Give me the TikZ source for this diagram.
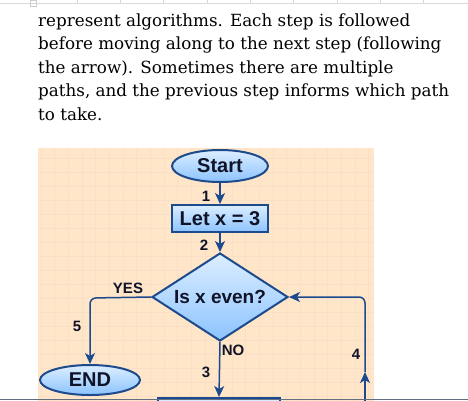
\documentclass[tikz,border=0pt]{standalone}
\usepackage{fontspec}
\setmainfont{DejaVu Serif}
\setsansfont{Liberation Sans}
\usepackage{xcolor}
\usetikzlibrary{shapes.geometric, arrows.meta, calc}
\definecolor{paper}{RGB}{255,230,200}
\definecolor{gridline}{RGB}{249,223,199}
\definecolor{flowline}{RGB}{28,74,140}
\definecolor{flowtop}{RGB}{220,238,255}
\definecolor{flowbot}{RGB}{140,195,255}
\definecolor{flowtext}{RGB}{15,20,40}
\begin{document}
\begin{tikzpicture}[x=1pt, y=-1pt,
  txt/.style={anchor=base west, inner sep=0, font=\fontsize{16.75}{23}\selectfont},
  flowbox/.style={draw=flowline, line width=2pt, top color=flowtop, bottom color=flowbot,
    text=flowtext, inner sep=0, font=\sffamily\bfseries\fontsize{20}{22}\selectfont},
  lbl/.style={text=flowtext, inner sep=0, font=\sffamily\bfseries\fontsize{15}{16}\selectfont},
  conn/.style={draw=flowline, line width=1.5pt, -{Stealth[length=11pt, width=10pt, inset=3pt]}}]
\useasboundingbox (0,0) rectangle (468,400);
\clip (0,0) rectangle (468,400);
\fill[white] (0,0) rectangle (468,400);
\draw[gray!30, line width=0.8pt] (0,3.5) -- (468,3.5);
\foreach \t in {0,...,8} \draw[gray!30, line width=0.6pt] ({77+43.3*\t},0) -- ({77+43.3*\t},3.5);
\draw[gray!40, line width=0.6pt] (30,0) rectangle (36,6);
\node[txt] (line1) at (38,26) {represent algorithms. Each step is followed};
\node[txt] (line2) at (38,49.5) {before moving along to the next step (following};
\node[txt] (line3) at (38,73) {the arrow). Sometimes there are multiple};
\node[txt] (line4) at (38,96.5) {paths, and the previous step informs which path};
\node[txt] (line5) at (38,120) {to take.};
\fill[paper] (38,148) rectangle (374,402);
\begin{scope}
\clip (38,148) rectangle (374,402);
\foreach \i in {3,...,27} \draw[gridline, line width=0.5pt] ({13.65*\i},148) -- ({13.65*\i},402);
\foreach \j in {-2,...,16} \draw[gridline, line width=0.5pt] (38,{172+14*\j}) -- (374,{172+14*\j});
\end{scope}
\node[flowbox, ellipse, minimum width=96pt, minimum height=32pt] (start) at (220,166) {Start};
\node[flowbox, rectangle, minimum width=96pt, minimum height=27pt] (letx) at (220,218.5) {Let x = 3};
\node[flowbox, diamond, shape aspect=1.55, minimum width=136pt, minimum height=88pt,
  font=\sffamily\bfseries\fontsize{19}{21}\selectfont] (even) at (220,297) {Is x even?};
\node[flowbox, ellipse, minimum width=100pt, minimum height=30pt] (fin) at (90,380) {END};
\node[flowbox, rectangle, minimum width=122pt, minimum height=40pt, anchor=north] (next) at (219,397) {};
\coordinate (yescorner) at (90,298);
\coordinate (loopbot) at (365,404);
\coordinate (looptip) at (365,372);
\draw[conn] (start) -- (letx);
\draw[conn] (letx) -- (even);
\draw[conn, rounded corners=6pt] (even.west) -- (yescorner) -- (fin.north);
\draw[conn] (even.south) -- (next.north);
\draw[conn] (loopbot) -- (looptip);
\draw[conn, rounded corners=6pt] (looptip) |- (even.east);
\node[lbl] (n1) at (206,196) {1};
\node[lbl] (n2) at (204,245) {2};
\node[lbl] (yes) at (128,288) {YES};
\node[lbl] (n5) at (77,326) {5};
\node[lbl] (no) at (233,350) {NO};
\node[lbl] (n3) at (206,372) {3};
\node[lbl] (n4) at (356,354) {4};
\draw[gray!70!flowline, line width=1.2pt] (0,399.4) -- (468,399.4);
\end{tikzpicture}
\end{document}
